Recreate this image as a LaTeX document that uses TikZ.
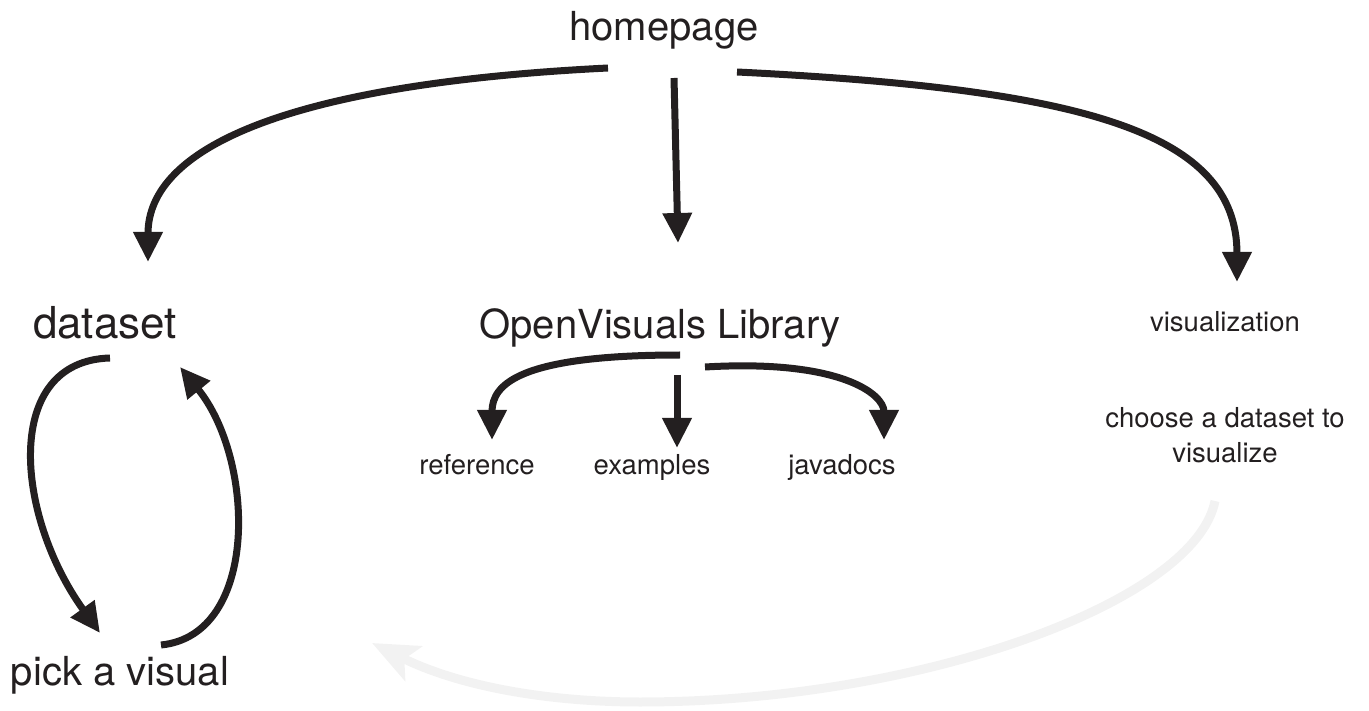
\documentclass[tikz,border=0pt]{standalone}
\usepackage{fontspec}
\setmainfont{TeX Gyre Heros}
\usetikzlibrary{arrows.meta,calc}
\definecolor{ink}{HTML}{231F20}
\definecolor{ghost}{HTML}{F2F2F2}
\tikzset{
  big/.style={inner sep=0pt, anchor=base, text=ink, font=\fontsize{40}{44}\selectfont},
  small/.style={inner sep=0pt, anchor=base, text=ink, font=\fontsize{27.5}{35}\selectfont, align=center},
  link/.style={draw=ink, line width=7pt, -{Triangle[length=30pt,width=28pt]}},
  faint/.style={draw=ghost, line width=9pt, -{Stealth[length=46pt,width=38pt,inset=10pt]}}
}
\begin{document}
\begin{tikzpicture}[x=1pt,y=-1pt]
\useasboundingbox (0,0) rectangle (1369,711);
\node[big] (home) at (664,41) {homepage};
\node[big, font=\fontsize{44}{48}\selectfont] (data) at (105,339) {dataset};
\node[big] (lib) at (660,339) {OpenVisuals Library};
\node[small] (vis) at (1225,332) {visualization};
\node[small] (choose) at (1225,462) {choose a dataset to\\visualize};
\node[small] (ref) at (477,474) {reference};
\node[small] (ex) at (652,474) {examples};
\node[small] (jd) at (842,474) {javadocs};
\node[big] (pick) at (120,685) {pick a visual};

% homepage arrows
\draw[link] ($(home.base)+(-56,27)$) .. controls ($(home.base)+(-380,43)$) and ($(data.base)+(43,-190)$) .. ($(data.base)+(43,-77)$);
\draw[link] ($(home.base)+(10,37)$) -- ($(lib.base)+(18,-96)$);
\draw[link] ($(home.base)+(73,31)$) .. controls ($(home.base)+(420,48)$) and ($(vis.base)+(12,-200)$) .. ($(vis.base)+(12,-50)$);

% library arrows
\draw[link] ($(lib.base)+(20,16)$) .. controls ($(lib.base)+(-140,16)$) and ($(ref.base)+(15,-90)$) .. ($(ref.base)+(15,-34)$);
\draw[link] ($(lib.base)+(17,36)$) -- ($(ex.base)+(25,-26)$);
\draw[link] ($(lib.base)+(45,28)$) .. controls ($(lib.base)+(180,20)$) and ($(jd.base)+(42,-80)$) .. ($(jd.base)+(42,-34)$);

% dataset / pick loop
\draw[link] ($(data.base)+(5,19)$) .. controls ($(data.base)+(-103,22)$) and ($(pick.base)+(-105,-170)$) .. ($(pick.base)+(-20,-52)$);
\draw[link] ($(pick.base)+(41,-40)$) .. controls ($(pick.base)+(140,-50)$) and ($(data.base)+(150,120)$) .. ($(data.base)+(75,28)$);

% faint return arrow
\draw[faint] ($(choose.base)+(-10,39)$) .. controls ($(choose.base)+(-30,140)$) and ($(pick.base)+(800,17)$) .. ($(pick.base)+(520,17)$) .. controls ($(pick.base)+(430,17)$) and ($(pick.base)+(341,2)$) .. ($(pick.base)+(252,-42)$);
\end{tikzpicture}
\end{document}
